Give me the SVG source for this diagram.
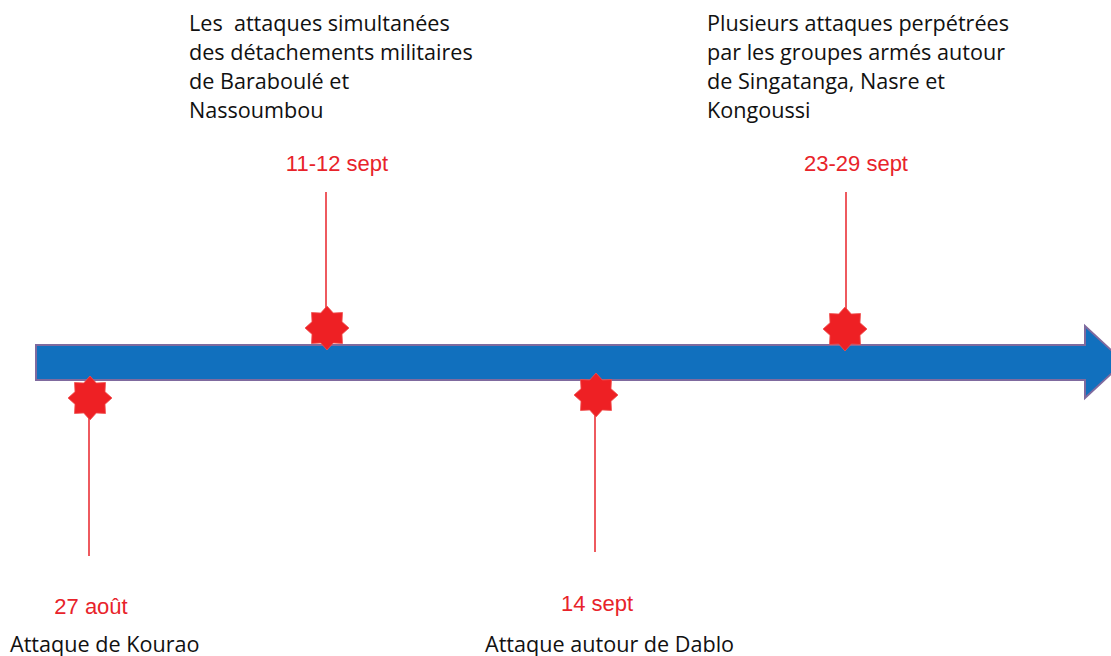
<svg xmlns="http://www.w3.org/2000/svg" xmlns:xlink="http://www.w3.org/1999/xlink" width="1111" height="656" viewBox="0 0 1111 656">
<style>
.date{font-family:"Liberation Sans",Arial,sans-serif;font-size:22px;fill:#E8232A;text-anchor:middle}
.desc{font-family:"Open Sans","Liberation Sans",sans-serif;font-size:21.6px;fill:#111}
.stem{stroke:#E8232A;stroke-width:1.5;fill:none}
.star{fill:#EE2024;stroke:#F0504F;stroke-width:0.8}
</style>
<defs>
<polygon id="star8" points="0,-22 6.3,-15 15.5,-15.5 15,-6.3 22,0 15,6.3 15.5,15.5 6.3,15 0,22 -6.3,15 -15.5,15.5 -15,6.3 -22,0 -15,-6.3 -15.5,-15.5 -6.3,-15"/>
</defs>
<rect width="1111" height="656" fill="#fff"/>
<g id="timeline-arrow">
<polygon points="36,345 1085,345 1085,326 1124,362 1085,398 1085,380 36,380" fill="#1170BE" stroke="#7F6A9E" stroke-width="2"/>
</g>
<g id="connectors">
<line class="stem" x1="326" y1="192" x2="326" y2="310"/>
<line class="stem" x1="89" y1="418" x2="89" y2="556"/>
<line class="stem" x1="595" y1="415" x2="595" y2="552"/>
<line class="stem" x1="846" y1="192" x2="846" y2="310"/>
</g>
<g id="event-27aout">
<use xlink:href="#star8" class="star" x="90" y="398"/>
<text class="date" x="91" y="614">27 août</text>
<text class="desc" x="10" y="652">Attaque de Kourao</text>
</g>
<g id="event-11-12sept">
<use xlink:href="#star8" class="star" x="327" y="328"/>
<text class="date" x="337" y="171">11-12 sept</text>
<text class="desc" x="189" y="31" xml:space="preserve">Les  attaques simultanées</text>
<text class="desc" x="189" y="60">des détachements militaires</text>
<text class="desc" x="189" y="89">de Baraboulé et</text>
<text class="desc" x="189" y="118">Nassoumbou</text>
</g>
<g id="event-14sept">
<use xlink:href="#star8" class="star" x="596" y="395"/>
<text class="date" x="597" y="611">14 sept</text>
<text class="desc" x="485" y="652">Attaque autour de Dablo</text>
</g>
<g id="event-23-29sept">
<use xlink:href="#star8" class="star" x="845" y="329"/>
<text class="date" x="856" y="171">23-29 sept</text>
<text class="desc" x="707" y="31">Plusieurs attaques perpétrées</text>
<text class="desc" x="707" y="60">par les groupes armés autour</text>
<text class="desc" x="707" y="89">de Singatanga, Nasre et</text>
<text class="desc" x="707" y="118">Kongoussi</text>
</g>
</svg>
